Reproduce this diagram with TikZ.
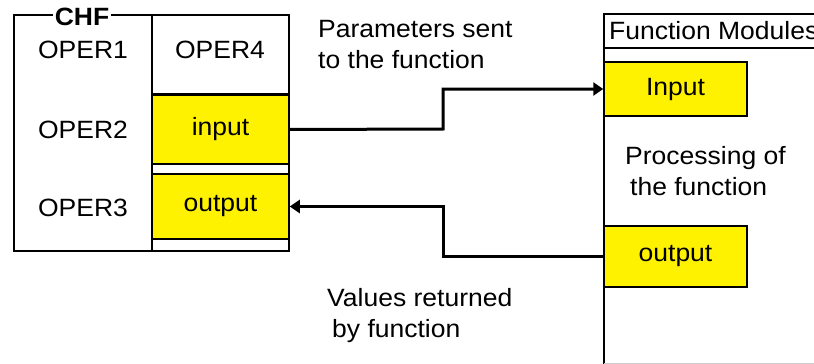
\documentclass[tikz,border=0pt]{standalone}
\usepackage{fontspec}
\setmainfont{Liberation Sans}[FakeStretch=1.06]
\usetikzlibrary{arrows.meta}
\tikzset{>={Triangle[length=10pt,width=13pt]}}

\begin{document}
\begin{tikzpicture}[x=1pt,y=-1pt,
    font=\fontsize{25}{31}\selectfont,
    frame/.style={line width=1.5pt},
    ybox/.style={draw,line width=1.5pt,fill=yellow,inner sep=0pt,minimum width=137pt},
    lbl/.style={align=left,anchor=west,inner sep=0pt}]
    \useasboundingbox (0,0) rectangle (814,364);
    % CHF block
    \draw[frame] (14,15) rectangle (289,251);
    \draw[frame] (152,15) -- (152,251);
    \draw[frame] (152,94) -- (289,94);
    \node[fill=white,inner sep=2pt,font=\fontsize{25}{31}\selectfont\bfseries] at (82,17) (chf) {CHF};
    \node at (83,50) (oper1) {OPER1};
    \node at (83,130) (oper2) {OPER2};
    \node at (83,208) (oper3) {OPER3};
    \node at (220,50) (oper4) {OPER4};
    \node[ybox,minimum height=69pt] at (220.5,129.5) (inp) {input};
    \node[ybox,minimum height=65pt] at (220.5,206.5) (outp) {output};
    % function modules
    \draw[frame] (604,364) -- (604,14) -- (814,14);
    \draw[frame] (604,48) -- (814,48);
    \draw[gray!40] (604,363) -- (814,363);
    \node[lbl] at (609,31) (fmod) {Function Modules};
    \node[ybox,minimum width=143pt,minimum height=54pt] at (675.5,89) (finp) {Input};
    \node[ybox,minimum width=143pt,minimum height=61pt] at (675.5,256.5) (foutp) {output};
    \node[lbl] at (625,171) (proc) {Processing of\\\hspace{5pt}the function};
    % labels
    \node[lbl] at (318,45) (sent) {Parameters sent\\to the function};
    \node[lbl] at (327,316) (ret) {Values returned\\\hspace{5pt}by function};
    \path[->, line width=3pt]
    (inp.east) edge [to path={-- (443,129) |- (\tikztotarget)}] (finp.west)
    (foutp.west) edge [to path={-- (443,256.5) |- (\tikztotarget)}] (outp.east)
    ;
\end{tikzpicture}
\end{document}
